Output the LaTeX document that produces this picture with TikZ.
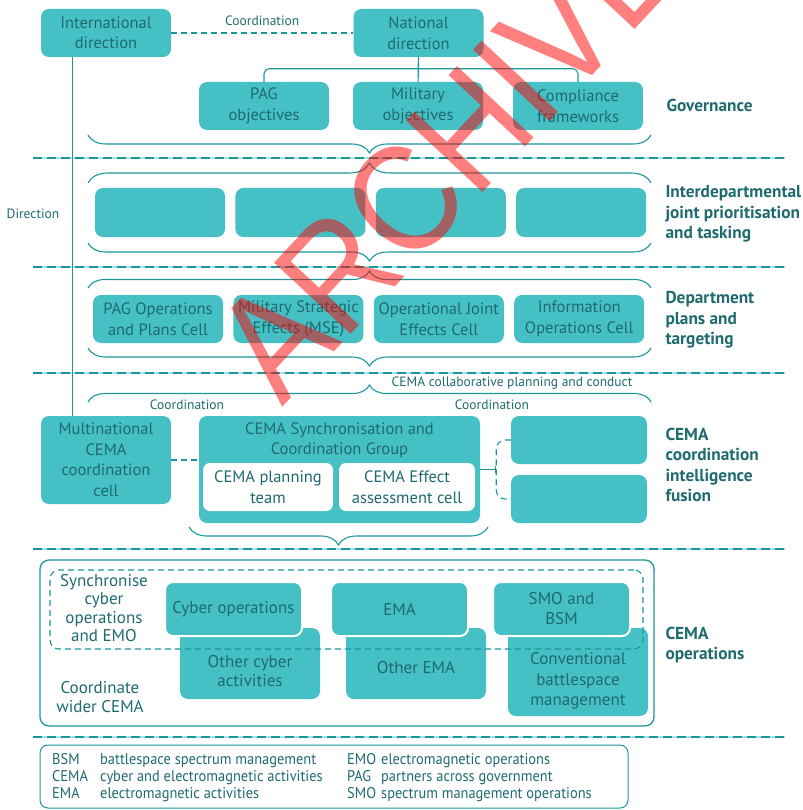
\documentclass[tikz,border=0pt]{standalone}
\usepackage{fontspec}
\setmainfont{PT Sans}
\newfontfamily\wmfont[FakeStretch=0.88]{Liberation Sans}
\newfontfamily\legfont[FakeStretch=0.93]{PT Sans}
\usetikzlibrary{arrows.meta,positioning,calc,decorations.pathreplacing}
\definecolor{tl}{HTML}{45C1C6}
\definecolor{tln}{HTML}{1B979B}
\definecolor{tdk}{HTML}{1F6A6F}
\definecolor{tsoft}{HTML}{A9E0E2}
\tikzset{
  box/.style={fill=tl,rounded corners=8pt,text=tdk,font=\fontsize{16.5}{20.5}\selectfont,align=center,inner sep=1pt,minimum width=130pt,minimum height=48pt},
  wbox/.style={box,fill=white,rounded corners=7pt},
  fbox/.style={box,draw=white,line width=2pt,minimum width=137pt,minimum height=54pt,font=\fontsize{17}{20}\selectfont},
  bbox/.style={box,minimum width=140pt},
  hd/.style={anchor=west,align=left,text=tdk,font=\fontsize{17.3}{20.5}\selectfont\bfseries},
  lab/.style={text=tdk,font=\fontsize{13.5}{15}\selectfont},
  txt/.style={text=tdk,align=center,font=\fontsize{17}{18.5}\selectfont},
  ln/.style={draw=tln,line width=1.1pt},
  dsh/.style={ln,dash pattern=on 6pt off 4pt},
  brc/.style={ln,decorate,decoration={brace,amplitude=#1}},
  brc/.default=18pt,
}
\begin{document}
\begin{tikzpicture}[x=1pt,y=-1pt]
\useasboundingbox (0,0) rectangle (802,810);
% separators
\foreach \y in {158,267,373,549,737}{
  \draw[tsoft,line width=1.5pt] (33,\y) -- (785,\y);
  \draw[tln,line width=1.5pt,dash pattern=on 9pt off 5pt] (33,\y) -- (785,\y);
}
% governance
\node[box] (intl) at (106,33) {International\\direction};
\node[box] (nat) at (418.5,33) {National\\direction};
\node[box] (pag) at (264,106) {PAG\\objectives};
\node[box] (mil) at (418,106) {Military\\objectives};
\node[box] (comp) at (578,106) {Compliance\\frameworks};
\draw[dsh] (intl) -- (nat) node[lab,midway,above=3pt] {Coordination};
\draw[ln] (nat) -- (mil);
\draw[ln,rounded corners=5pt] (pag.north) -- ++(0,-13) -| (comp.north);
\node[hd] (gov) at (663,105) {Governance};
\draw[brc] (651,135) -- (88,135);
% interdepartmental
\draw[brc=20pt] (88,183) -- (651,183);
\node[box,minimum height=49pt] (ip1) at (160,212.5) {};
\node[box,minimum height=49pt,right=10pt of ip1] (ip2) {};
\node[box,minimum height=49pt,right=10pt of ip2] (ip3) {};
\node[box,minimum height=49pt,right=10pt of ip3] (ip4) {};
\draw[brc] (651,243) -- (88,243);
\node[hd] (idj) at (662,214) {Interdepartmental\\joint prioritisation\\and tasking};
% department
\draw[brc=17pt] (88,288) -- (651,288);
\node[box] (pop) at (158,319) {PAG Operations\\and Plans Cell};
\node[box,right=10pt of pop] (mse) {Military Strategic\\Effects (MSE)};
\node[box,right=10pt of mse] (ojec) {Operational Joint\\Effects Cell};
\node[box,right=10pt of ojec] (ioc) {Information\\Operations Cell};
\draw[brc] (651,348) -- (88,348);
\node[hd] (dpt) at (662,320) {Department\\plans and\\targeting};
% CEMA coordination
\node[lab] (colab) at (512,383) {CEMA collaborative planning and conduct};
\draw[brc=17pt] (88,402) -- (651,402);
\node[lab] (co1) at (187,405) {Coordination};
\node[lab] (co2) at (492,405) {Coordination};
\node[box,minimum height=88pt] (multi) at (106,460) {Multinational\\CEMA\\coordination\\cell};
\node[box,minimum width=281pt,minimum height=107pt] (sync) at (339.5,469.5) {};
\node[txt,anchor=north,font=\fontsize{16.5}{20}\selectfont] (synct) at ([yshift=-3pt]sync.north) {CEMA Synchronisation and\\Coordination Group};
\node[wbox] (plan) at (268,487) {CEMA planning\\team};
\node[wbox,minimum width=136pt] (assess) at (407,487) {CEMA Effect\\assessment cell};
\node[box,minimum width=136pt] (fus1) at (579,440) {};
\node[box,minimum width=136pt] (fus2) at (579,499) {};
\draw[dsh] (multi.east) -- (multi.east -| sync.west);
\coordinate (jn) at ($(sync.east)+(16,0)$);
\draw[ln,-{Bar[width=7pt,line width=1.1pt]}] (sync.east) -- (jn);
\draw[dsh,rounded corners=9pt] (fus1.west) -| (jn) |- (fus2.west);
\draw[brc] (488,527) -- (189,527);
\draw[ln] ($(intl.south west)!.24!(intl.south east)$) coordinate (dtop) -- (dtop |- multi.north);
\node[lab] (dir) at (33,214) {Direction};
\node[hd] (cci) at (662,465) {CEMA\\coordination\\intelligence\\fusion};
% CEMA operations
\node[draw=tln,line width=1.3pt,rounded corners=9pt,minimum width=614pt,minimum height=166pt] (ops) at (347,643) {};
\node[bbox,minimum height=71pt] (ocyb) at (250,663.5) {};
\node[txt,font=\fontsize{17}{19}\selectfont] (ocybt) at (250,671) {Other cyber\\activities};
\node[bbox,minimum height=71pt] (oema) at (416,663.5) {};
\node[txt] (oemat) at (416,668) {Other EMA};
\node[bbox,minimum height=88pt] (cbm) at (578,672) {};
\node[txt,font=\fontsize{17}{20.5}\selectfont] (cbmt) at (578,681) {Conventional\\battlespace\\management};
\node[fbox] (cyb) at (233.5,609) {Cyber operations};
\node[fbox] (ema) at (399.5,609) {EMA};
\node[fbox] (smo) at (561.5,609) {SMO and\\BSM};
\node[dsh,rounded corners=9pt,minimum width=593pt,minimum height=79pt] (syn) at (346.5,609.5) {};
\node[txt] (synt) at (104,608) {Synchronise\\cyber\\operations\\and EMO};
\node[txt] (wid) at (100,697) {Coordinate\\wider CEMA};
\node[hd] (opsl) at (662,645) {CEMA\\operations};
% legend
\node[draw=tln,line width=1pt,rounded corners=8pt,minimum width=588pt,minimum height=63pt] (leg) at (334,776.5) {};
\node[anchor=north west,inner sep=0pt,text=tdk,font=\legfont\fontsize{15.5}{17}\selectfont] (legt) at (52,752) {%
\begin{tabular}{@{}p{48pt}@{}p{247pt}@{}p{34pt}@{}l@{}}
BSM & battlespace spectrum management & EMO & electromagnetic operations\\
CEMA & cyber and electromagnetic activities & PAG & partners across government\\
EMA & electromagnetic activities & SMO & spectrum management operations
\end{tabular}};
% watermark
\node[text=red,opacity=.5,rotate=47,font=\wmfont\fontsize{152}{152}\selectfont] (wm) at (480,119) {ARCHIVED};
\end{tikzpicture}
\end{document}
